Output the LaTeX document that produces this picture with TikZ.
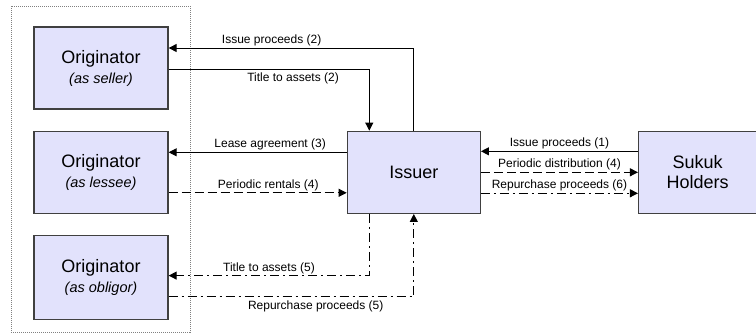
\documentclass[tikz,border=0pt]{standalone}
\usepackage{fontspec}
\setmainfont{Liberation Sans}
\usetikzlibrary{positioning,arrows.meta}
\definecolor{boxfill}{RGB}{226,226,252}
\definecolor{boxline}{RGB}{64,64,64}
\newcommand{\rolenote}[1]{{\fontsize{14.5}{17}\selectfont\itshape #1}}
\begin{document}
\begin{tikzpicture}[x=1pt, y=-1pt, line width=1pt, >={Triangle[length=8pt,width=8pt]},
  main/.style = {draw=boxline, line width=1.3pt, fill=boxfill, rectangle, minimum width=134pt, minimum height=82pt, align=center, font=\fontsize{18}{20}\selectfont},
  lbl/.style = {font=\fontsize{12}{14}\selectfont, inner sep=1.5pt},
  dashline/.style = {dash pattern=on 9pt off 4pt},
  dashdot/.style = {dash pattern=on 9pt off 4pt on 2pt off 4pt}]
  \useasboundingbox (0,0) rectangle (756,335);
  \draw[gray, line width=0.8pt, dash pattern=on 1pt off 1pt] (11,6) rectangle (190,332);
  \node[main] (seller) at (101,68) {Originator\\\rolenote{(as seller)}};
  \node[main] (lessee) [below=21pt of seller] {Originator\\\rolenote{(as lessee)}};
  \node[main, minimum height=84pt] (obligor) [below=21pt of lessee] {Originator\\\rolenote{(as obligor)}};
  \node[main, minimum width=133pt] (issuer) [right=178pt of lessee] {Issuer};
  \node[main, minimum width=118pt] (sukuk) [right=157pt of issuer] {Sukuk\\Holders};
  % originator side
  \draw[->] (issuer.north) |- ([yshift=20pt]seller.east) node[lbl, above, pos=0.79] {Issue proceeds (2)};
  \draw[->] ([yshift=-1pt]seller.east) -| ([xshift=-44.5pt]issuer.north) node[lbl, below=2pt, pos=0.31] {Title to assets (2)};
  \draw[->] ([yshift=20pt]issuer.west) -- ([yshift=20pt]lessee.east) node[lbl, above, pos=0.43] {Lease agreement (3)};
  \draw[->, dashline] ([yshift=-20.5pt]lessee.east) -- ([yshift=-20.5pt]issuer.west) node[lbl, above, pos=0.56] {Periodic rentals (4)};
  \draw[->, dashdot] ([xshift=-44.5pt]issuer.south) |- ([yshift=2pt]obligor.east) node[lbl, above, pos=0.75] {Title to assets (5)};
  \draw[->, dashdot] ([yshift=-19pt]obligor.east) -| (issuer.south) node[lbl, below=2pt, pos=0.3] {Repurchase proceeds (5)};
  % sukuk side
  \draw[->] ([yshift=21pt]sukuk.west) -- ([yshift=21pt]issuer.east) node[lbl, above, midway] {Issue proceeds (1)};
  \draw[->, dashline] (issuer.east) -- (sukuk.west) node[lbl, above, midway] {Periodic distribution (4)};
  \draw[->, dashdot] ([yshift=-21pt]issuer.east) -- ([yshift=-21pt]sukuk.west) node[lbl, above, midway] {Repurchase proceeds (6)};
\end{tikzpicture}
\end{document}
